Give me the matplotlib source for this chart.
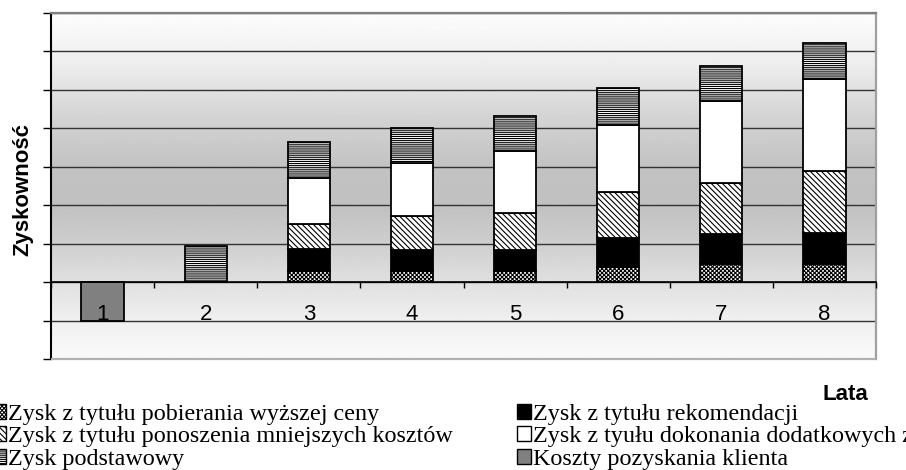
import numpy as np
import matplotlib.pyplot as plt
from matplotlib.patches import Patch, Rectangle

# Składniki zysku w kolejnych latach (jednostki umowne)
lata = [1, 2, 3, 4, 5, 6, 7, 8]
wyzsza_cena = [0, 0, 0.30, 0.28, 0.28, 0.39, 0.48, 0.48]
rekomendacje = [0, 0, 0.55, 0.56, 0.56, 0.75, 0.77, 0.81]
mniejsze_koszty = [0, 0, 0.65, 0.87, 0.97, 1.20, 1.34, 1.60]
dodatkowe_zakupy = [0, 0, 1.21, 1.39, 1.60, 1.75, 2.12, 2.39]
podstawowy = [0, 0.95, 0.94, 0.91, 0.92, 0.97, 0.91, 0.95]
koszty_pozyskania = [-1, 0, 0, 0, 0, 0, 0, 0]

plt.rcParams['hatch.linewidth'] = 0.8

H_CENA = 'xxxxxxxx'
H_KOSZTY = '\\' * 6
H_PODST = '-' * 8

fig = plt.figure(figsize=(9.06, 4.70), dpi=100)
ax = fig.add_axes([51 / 906, 1 - 359 / 470, 825 / 906, 346 / 470])
ax.set_xlim(0.5, 8.5)
ax.set_ylim(-2, 7)

# gradient tła: jasny u góry i u dołu, szary w środku
stops = [0.0, 0.11, 0.22, 0.35, 0.45, 0.55, 0.70, 0.85, 1.0]
shades = [0.98, 0.94, 0.88, 0.80, 0.755, 0.76, 0.83, 0.93, 0.99]
grad = np.interp(np.linspace(0, 1, 256), stops, shades)[::-1].reshape(-1, 1)
ax.imshow(grad, cmap='gray', vmin=0, vmax=1, aspect='auto',
          extent=[0, 1, 0, 1], transform=ax.transAxes, zorder=0)

serie = [
    (wyzsza_cena, 'white', H_CENA),
    (rekomendacje, 'black', None),
    (mniejsze_koszty, 'white', H_KOSZTY),
    (dodatkowe_zakupy, 'white', None),
    (podstawowy, 'white', H_PODST),
]
x = np.array(lata)
bottom = np.zeros(len(lata))
for vals, fc, hatch in serie:
    vals = np.array(vals)
    m = vals > 0
    ax.bar(x[m], vals[m], width=0.41, bottom=bottom[m], color=fc,
           edgecolor='black', linewidth=1.3, hatch=hatch, zorder=3)
    bottom += vals

kp = np.array(koszty_pozyskania)
m = kp < 0
ax.bar(x[m], kp[m], width=0.41, color='#808080', edgecolor='black',
       linewidth=1.3, zorder=3)

# osie: siatka pod słupkami, opisy lat nad nimi
ax.grid(axis='y', color='#333333', linewidth=1.0)
ax.yaxis.set_zorder(1)
ax.xaxis.set_zorder(5)
ax.set_yticks(np.arange(-2, 8))
ax.set_yticklabels([])
ax.tick_params(axis='y', length=6, width=1, direction='out', color='black')
ax.set_xticks(np.arange(0.5, 9.5, 1.0))
ax.set_xticklabels([])
ax.set_xticks(lata, minor=True)
ax.set_xticklabels([str(r) for r in lata], minor=True)
ax.tick_params(axis='x', which='major', length=4, width=1, direction='out')
ax.tick_params(axis='x', which='minor', length=0, pad=16, labelsize=16,
               labelfontfamily='Liberation Sans')

ax.spines['bottom'].set_position(('data', 0))
ax.spines['bottom'].set_linewidth(1.2)
ax.spines['bottom'].set_zorder(4)
ax.spines['left'].set_linewidth(1.5)
ax.spines['top'].set_color('#808080')
ax.spines['top'].set_linewidth(1.6)
ax.spines['right'].set_color('#a0a0a0')
ax.spines['right'].set_linewidth(1.6)
ax.add_patch(Rectangle((0, 0), 1, 0, transform=ax.transAxes, fill=False,
                       edgecolor='#b0b0b0', linewidth=1.6, clip_on=False, zorder=4))

fig.text(23 / 906, 1 - 190 / 470, 'Zyskowność', rotation=90, ha='center',
         va='center', fontfamily='Liberation Sans', fontweight='bold', fontsize=16)
fig.text(868 / 906, 1 - 395 / 470, 'Lata', ha='right', va='center',
         fontfamily='Liberation Sans', fontweight='bold', fontsize=16)

handles = [
    Patch(facecolor='white', edgecolor='black', hatch=H_CENA),
    Patch(facecolor='white', edgecolor='black', hatch=H_KOSZTY),
    Patch(facecolor='white', edgecolor='black', hatch=H_PODST),
    Patch(facecolor='black', edgecolor='black'),
    Patch(facecolor='white', edgecolor='black'),
    Patch(facecolor='#808080', edgecolor='black'),
]
labels = [
    'Zysk z tytułu pobierania wyższej ceny',
    'Zysk z tytułu ponoszenia mniejszych kosztów',
    'Zysk podstawowy',
    'Zysk z tytułu rekomendacji',
    'Zysk z tyułu dokonania dodatkowych zakupów',
    'Koszty pozyskania klienta',
]
fig.legend(handles, labels, ncol=2, loc='upper left',
           bbox_to_anchor=(-8 / 906, 1 - 404 / 470), frameon=False,
           prop={'family': 'Liberation Serif', 'size': 17.4},
           borderpad=0, borderaxespad=0, labelspacing=0.05,
           handlelength=0.58, handleheight=0.58, handletextpad=0.1,
           columnspacing=2.63)

fig.savefig('out.png', dpi=100)
